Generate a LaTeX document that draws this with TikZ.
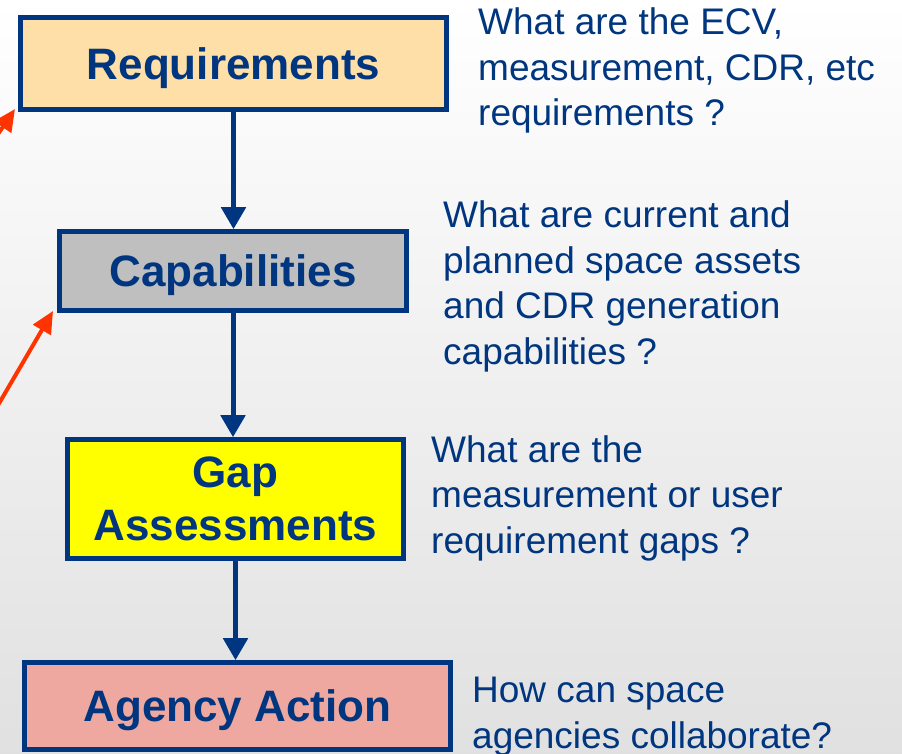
\documentclass[tikz,border=0pt]{standalone}
\usepackage{fontspec}
\setmainfont{Liberation Sans}
\usetikzlibrary{arrows.meta}
\definecolor{NavyBlue}{HTML}{00357F}
\definecolor{Peach}{HTML}{FFDFA8}
\definecolor{MidGray}{HTML}{BFBFBF}
\definecolor{Lemon}{HTML}{FFFF00}
\definecolor{Salmon}{HTML}{EEA89F}
\definecolor{AlertRed}{HTML}{FF3300}

\begin{document}
\begin{tikzpicture}[x=1pt,y=1pt,yscale=-1,xscale=1,
		stage/.style={draw=NavyBlue, line width=4.6pt, text=NavyBlue, inner sep=0pt, text depth=0pt,
			font=\fontsize{44}{53}\selectfont\bfseries, align=center},
		question/.style={text=NavyBlue, inner sep=0pt, anchor=base west, align=left,
			font=\fontsize{37}{45.5}\selectfont},
		flow/.style={draw=NavyBlue, line width=5pt, -{Triangle[width=24pt,length=22pt]}},
		feedback/.style={draw=AlertRed, line width=4pt, -{Triangle[width=20pt,length=22pt]}}]
		% Page frame and soft backdrop
		\useasboundingbox (0,0) rectangle (902,754);
		\clip (0,0) rectangle (902,754);
		\shade[top color=white, bottom color=black!12] (0,0) rectangle (902,754);

		% The four stages
		\node[stage, fill=Peach, minimum width=426pt, minimum height=92pt] (req) at (233.5,63.5) {Requirements};
		\node[stage, fill=MidGray, minimum width=347pt, minimum height=79pt] (cap) at (233,271) {Capabilities};
		\node[stage, fill=Lemon, minimum width=336pt, minimum height=119pt] (gap) at (235.5,499) {Gap\\Assessments};
		\node[stage, fill=Salmon, minimum width=426pt, minimum height=87pt] (act) at (237.5,706) {Agency Action};

		% Downward flow between stages
		\draw[flow] (req.south) -- (req.south |- cap.north);
		\draw[flow] (cap.south) -- (cap.south |- gap.north);
		\draw[flow] (gap.south) -- (gap.south |- act.north);

		% Questions beside each stage (placed at the last baseline)
		\node[question] (qreq) at (478,126) {What are the ECV,\\measurement, CDR, etc\\requirements ?};
		\node[question] (qcap) at (443,364) {What are current and\\planned space assets\\and CDR generation\\capabilities ?};
		\node[question] (qgap) at (431,553) {What are the\\measurement or user\\requirement gaps ?};
		\node[question] (qact) at (472,748) {How can space\\agencies collaborate?};

		% Red feedback arrows coming in from the left edge
		\coordinate (fbA) at (-40,190);
		\coordinate (fbB) at (-20,436);
		\draw[feedback] (fbA) -- (15,109);
		\draw[feedback] (fbB) -- (53,311);
	\end{tikzpicture}
\end{document}
